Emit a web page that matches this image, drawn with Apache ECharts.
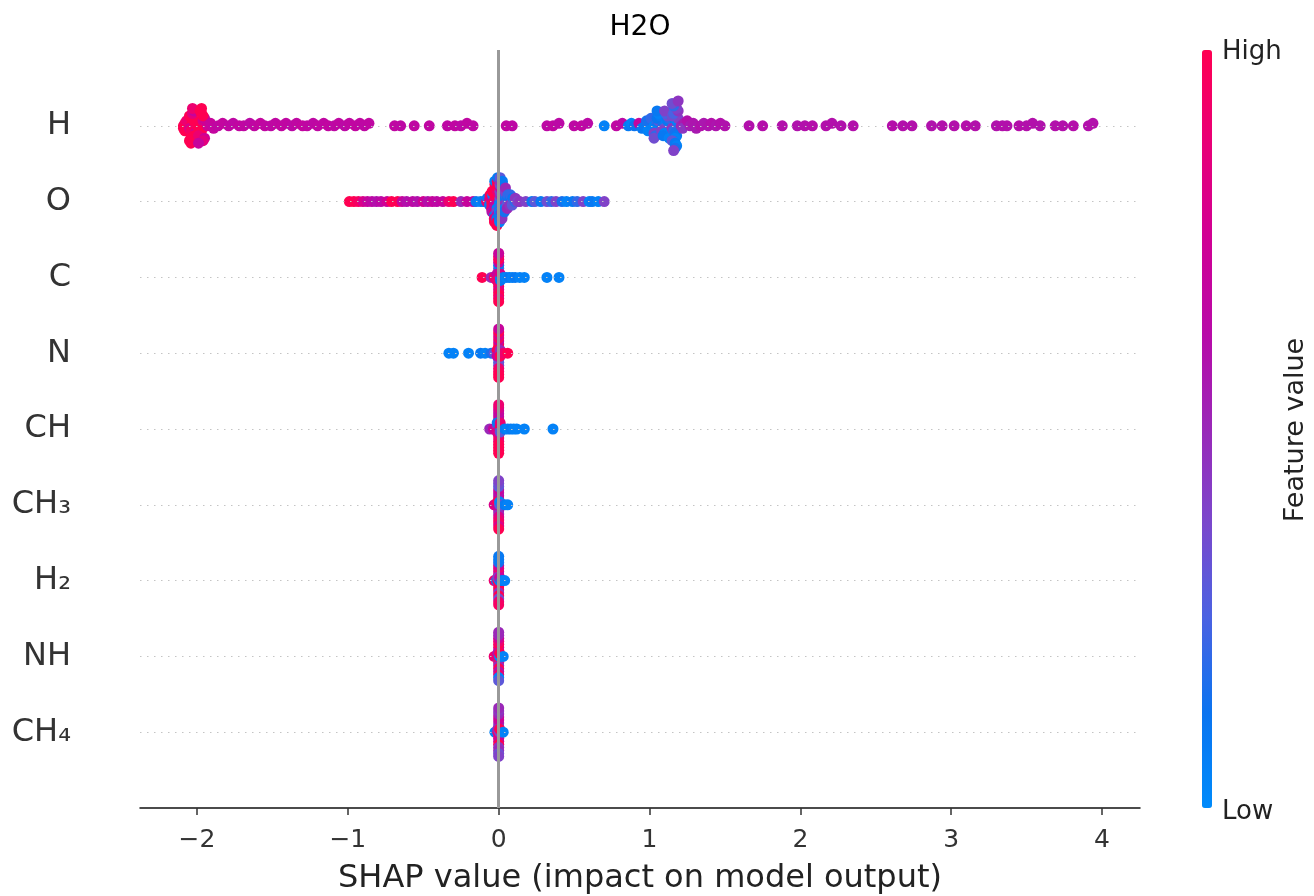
<!DOCTYPE html>
<html>
<head>
<meta charset="utf-8">
<title>H2O SHAP summary</title>
<script src="https://cdn.jsdelivr.net/npm/echarts@6/dist/echarts.min.js"></script>
<style>
  html, body { margin: 0; padding: 0; background: #fff; }
  #main { width: 1314px; height: 896px; }
</style>
</head>
<body>
<div id="main"></div>
<script>
// rows from bottom to top
const featureNames = ['CH\u2084', 'NH', 'H\u2082', 'CH\u2083', 'CH', 'N', 'C', 'O', 'H']
const xTicks = [-2, -1, 0, 1, 2, 3, 4]

// shap values and (normalised) feature values, one pair of arrays per row
const shapH = [
  -2.09, -2.08, -2.09, -2.07, -2.08,
  -2.04, -2.03, -2.05, -2.02, -2.04, -2.03, -2.01, -2.05, -2.02, -2.03, -2.04, -2.02, -2.05, -2.03, -2.04,
  -1.98, -1.97, -1.99, -1.96, -1.97, -1.95, -1.98, -1.96, -1.99, -1.97, -1.95, -1.98, -1.96, -1.97, -1.99,
  -1.93, -1.91, -1.89,
  -1.86, -1.83, -1.79, -1.76, -1.72, -1.69, -1.65, -1.62, -1.58, -1.55,
  -1.51, -1.48, -1.44, -1.41, -1.37, -1.34, -1.30, -1.27, -1.23, -1.20,
  -1.16, -1.13, -1.09, -1.06, -1.02, -0.99, -0.95, -0.92, -0.89, -0.86,
  -0.69, -0.65, -0.56, -0.46, -0.34, -0.29, -0.25, -0.21, -0.17,
  0.05, 0.09, 0.32, 0.36, 0.40, 0.50, 0.55, 0.59, 0.70, 0.78, 0.82,
  0.86, 0.88, 0.90, 0.93, 0.95,
  0.97, 0.99, 1.00, 0.98, 0.99, 1.01,
  1.03, 1.05, 1.04, 1.06, 1.02, 1.05, 1.03, 1.07, 1.04, 1.06, 1.03, 1.05,
  1.09, 1.11, 1.10, 1.12, 1.08, 1.13, 1.10, 1.12, 1.09, 1.11, 1.13, 1.10,
  1.16, 1.17, 1.15, 1.18, 1.16, 1.19, 1.17, 1.15, 1.18, 1.16, 1.17,
  1.19, 1.15, 1.18, 1.17, 1.16, 1.18, 1.15, 1.17, 1.19, 1.16,
  1.21, 1.23, 1.22, 1.25,
  1.27, 1.29, 1.31, 1.34, 1.36, 1.39, 1.41, 1.44, 1.47, 1.50,
  1.66, 1.75, 1.88, 1.98, 2.03, 2.08, 2.17, 2.21, 2.27, 2.35,
  2.61, 2.68, 2.74, 2.87, 2.94, 3.02, 3.10, 3.16, 3.30, 3.34,
  3.37, 3.45, 3.50, 3.54, 3.59, 3.69, 3.74, 3.81, 3.91, 3.94
]
const featH = [
  1, 0.95, 1, 0.9, 1,
  1, 1, 0.8, 1, 0.95, 1, 0.75, 1, 1, 0.85, 1, 0.7, 1, 0.9, 1,
  0.95, 1, 1, 0.8, 1, 0.7, 1, 1, 0.9, 1, 0.75, 1, 0.85, 1, 0.7,
  0.75, 0.7, 0.68,
  0.66, 0.68, 0.66, 0.65, 0.67, 0.66, 0.64, 0.66, 0.68, 0.66,
  0.65, 0.66, 0.67, 0.66, 0.64, 0.66, 0.68, 0.66, 0.65, 0.66,
  0.66, 0.67, 0.65, 0.66, 0.64, 0.66, 0.67, 0.66, 0.65, 0.66,
  0.66, 0.65, 0.66, 0.66, 0.65, 0.66, 0.64, 0.66, 0.65,
  0.66, 0.65, 0.65, 0.66, 0.64, 0.65, 0.66, 0.64, 0.05, 0.66, 0.64,
  0.08, 0.05, 0.12, 0.68, 0.1,
  0.1, 0.05, 0.35, 0.15, 0.05, 0.2,
  0.05, 0.2, 0.1, 0.3, 0.05, 0.12, 0.4, 0.08, 0.2, 0.05, 0.35, 0.1,
  0.15, 0.05, 0.3, 0.1, 0.4, 0.2, 0.05, 0.35, 0.1, 0.25, 0.05, 0.4,
  0.3, 0.1, 0.45, 0.05, 0.2, 0.4, 0.15, 0.35, 0.1, 0.25, 0.05,
  0.45, 0.3, 0.4, 0.1, 0.2, 0.05, 0.35, 0.15, 0.45, 0.4,
  0.5, 0.55, 0.45, 0.6,
  0.55, 0.58, 0.56, 0.6, 0.57, 0.58, 0.6, 0.58, 0.6, 0.59,
  0.6, 0.61, 0.6, 0.59, 0.6, 0.61, 0.6, 0.6, 0.59, 0.6,
  0.61, 0.6, 0.6, 0.59, 0.6, 0.6, 0.61, 0.6, 0.59, 0.6,
  0.6, 0.61, 0.6, 0.6, 0.59, 0.6, 0.6, 0.61, 0.6, 0.6
]

const shapO = [
  -0.99, -0.96, -0.93, -0.90, -0.87, -0.84, -0.81, -0.78, -0.74, -0.71,
  -0.67, -0.64, -0.61, -0.57, -0.54, -0.50, -0.47, -0.44, -0.41, -0.37,
  -0.33, -0.30, -0.25, -0.21, -0.17, -0.15, -0.12, -0.10,
  -0.080, -0.075,
  -0.062, -0.058, -0.061, -0.057,
  -0.046, -0.042, -0.044, -0.040, -0.047, -0.043, -0.045,
  -0.027, -0.025, -0.029, -0.024, -0.028, -0.026, -0.030, -0.023, -0.027, -0.025, -0.029, -0.026, -0.028,
  -0.010, -0.008, -0.012, -0.007, -0.011, -0.009, -0.013, -0.006, -0.010, -0.008, -0.012, -0.009, -0.011, -0.007, -0.012,
  0.007, 0.009, 0.005, 0.010, 0.006, 0.008, 0.004, 0.011, 0.007, 0.009, 0.005, 0.008, 0.006, 0.010,
  0.024, 0.026, 0.022, 0.027, 0.023, 0.025, 0.021, 0.028, 0.024, 0.026, 0.022, 0.025,
  0.041, 0.043, 0.039, 0.044, 0.040, 0.042, 0.038, 0.045,
  0.058, 0.060, 0.056, 0.061, 0.057,
  0.075, 0.077, 0.073, 0.078,
  0.092, 0.094, 0.090,
  0.108, 0.110,
  0.125,
  0.14, 0.18, 0.22, 0.24, 0.28, 0.32, 0.35, 0.38, 0.42, 0.45,
  0.49, 0.52, 0.56, 0.60, 0.62, 0.66, 0.70
]
const featO = [
  1, 1, 0.95, 0.8, 0.7, 0.65, 0.6, 0.65, 0.75, 1,
  1, 0.7, 0.6, 0.65, 0.6, 0.75, 0.6, 0.7, 0.65, 0.7,
  0.9, 1, 0.5, 0.7, 0.7, 0.1, 0.05, 0.1,
  0.9, 0.1,
  1, 0.7, 0.1, 1,
  1, 0.7, 1, 0.05, 0.9, 1, 0.6,
  1, 0.95, 0.7, 1, 0.6, 1, 0.8, 1, 0.1, 1, 0.9, 0.05, 1,
  0.8, 1, 0.7, 1, 0.05, 0.9, 0.4, 1, 0.6, 1, 0.1, 1, 0.95, 0.1, 1,
  0.1, 0.3, 0.05, 0.5, 0.2, 0.4, 0.05, 0.6, 0.15, 0.35, 0.1, 0.45, 0.05, 0.3,
  0.2, 0.05, 0.4, 0.1, 0.3, 0.15, 0.5, 0.05, 0.35, 0.2, 0.45, 0.1,
  0.3, 0.1, 0.45, 0.2, 0.05, 0.4, 0.15, 0.5,
  0.4, 0.1, 0.3, 0.2, 0.5,
  0.35, 0.1, 0.45, 0.2,
  0.4, 0.1, 0.3,
  0.2, 0.45,
  0.4,
  0.45, 0.4, 0.1, 0.3, 0.1, 0.35, 0.2, 0.4, 0.15, 0.05,
  0.1, 0.2, 0.4, 0.05, 0.1, 0.05, 0.4
]

const shapC = [
  -0.11, -0.05, -0.03,
  0, 0, 0, 0, 0, 0, 0, 0, 0, 0, 0, 0, 0, 0, 0, 0, 0,
  -0.012, -0.012, -0.012, 0.012, 0.012, 0.012,
  0.03, 0.05, 0.07, 0.09, 0.11, 0.14, 0.17, 0.32, 0.40
]
const featC = [
  1, 0.5, 0.9,
  0.6, 0.05, 1, 1, 0.9, 0.3, 1, 0.1, 0.8, 0.7, 0.95, 1, 1, 0.9, 0.9, 0.7, 1,
  1, 0.7, 0.9, 0.05, 0.8, 0.1,
  0.1, 0.05, 0.1, 0.05, 0.1, 0.05, 0.05, 0.05, 0.05
]

const shapN = [
  -0.33, -0.30, -0.20, -0.12, -0.09, -0.05, -0.03,
  0, 0, 0, 0, 0, 0, 0, 0, 0, 0, 0, 0, 0, 0, 0, 0, 0,
  -0.01, -0.01, -0.01, 0.01, 0.01, 0.01,
  0.03, 0.06
]
const featN = [
  0.05, 0.05, 0.05, 0.1, 0.05, 0.15, 0.3,
  1, 0.9, 0.5, 0.8, 0.3, 1, 0.25, 0.7, 0.35, 0.95, 0.9, 0.8, 0.95, 1, 1, 0.7, 1,
  0.3, 1, 0.7, 0.9, 0.5, 1,
  0.9, 1
]

const shapCH = [
  -0.06, -0.035,
  0, 0, 0, 0, 0, 0, 0, 0, 0, 0, 0, 0, 0, 0, 0, 0, 0,
  -0.01, -0.01, -0.01, -0.01, 0.01, 0.01, 0.01, 0.01,
  0.04, 0.06, 0.08, 0.10, 0.12, 0.17, 0.36
]
const featCH = [
  0.5, 0.7,
  1, 0.8, 1, 0.7, 0.95, 0.1, 1, 0.75, 0.9, 0.65, 1, 0.7, 1, 0.8, 1, 0.9, 1,
  1, 0.5, 0.8, 0.1, 0.1, 1, 0.3, 0.9,
  0.1, 0.05, 0.1, 0.05, 0.05, 0.05, 0.05
]

const shapCH3 = [
  -0.03, -0.015,
  0, 0, 0, 0, 0, 0, 0, 0, 0, 0, 0, 0, 0, 0, 0, 0, 0,
  -0.006, -0.006, 0.006, 0.006,
  0.02, 0.04, 0.06
]
const featCH3 = [
  0.8, 0.9,
  1, 0.65, 0.95, 0.9, 0.6, 0.7, 0.5, 0.6, 0.8, 0.7, 0.9, 0.3, 0.95, 0.35, 0.8, 0.4, 1,
  0.7, 1, 0.3, 0.05,
  0.3, 0.1, 0.05
]

const shapH2 = [
  -0.03, -0.015,
  0, 0, 0, 0, 0, 0, 0, 0, 0, 0, 0, 0, 0, 0, 0, 0, 0,
  -0.006, -0.006, 0.006, 0.006,
  0.02, 0.04
]
const featH2 = [
  0.9, 0.1,
  0.05, 0.8, 0.45, 0.9, 0.9, 0.7, 1, 0.9, 0.45, 0.75, 1, 0.15, 0.35, 0.1, 0.9, 0.1, 0.95,
  1, 0.4, 0.05, 0.7,
  0.1, 0.05
]

const shapNH = [
  -0.03,
  0, 0, 0, 0, 0, 0, 0, 0, 0, 0, 0, 0, 0, 0, 0, 0, 0,
  -0.006, -0.006, 0.006, 0.006,
  0.03
]
const featNH = [
  0.9,
  0.95, 0.9, 0.05, 0.7, 0.9, 0.8, 0.5, 1, 1, 0.9, 0.6, 0.75, 0.9, 0.5, 0.05, 0.5, 0.3,
  0.9, 0.6, 0.05, 1,
  0.05
]

const shapCH4 = [
  -0.025,
  0, 0, 0, 0, 0, 0, 0, 0, 0, 0, 0, 0, 0, 0, 0, 0, 0,
  -0.006, -0.006, 0.006, 0.006,
  0.03
]
const featCH4 = [
  0.05,
  0.3, 0.3, 0.5, 0.4, 0.85, 0.5, 0.7, 0.7, 1, 0.75, 0.45, 0.5, 0.5, 0.45, 0.35, 0.5, 0.4,
  0.9, 0.5, 0.4, 1,
  0.05
]

const rowData = [
  [shapCH4, featCH4], [shapNH, featNH], [shapH2, featH2], [shapCH3, featCH3],
  [shapCH, featCH], [shapN, featN], [shapC, featC], [shapO, featO], [shapH, featH]
]

// beeswarm offsets, same stacking rule as shap's summary plot
function swarm(xs) {
  const nbins = 100, rowHeight = 0.4
  const lo = Math.min(...xs), hi = Math.max(...xs)
  const quant = xs.map(x => Math.round(nbins * (x - lo) / (hi - lo + 1e-8)))
  const order = xs.map((_, i) => i).sort((a, b) => quant[a] - quant[b] || a - b)
  const ys = new Array(xs.length).fill(0)
  let layer = 0, last = -1
  order.forEach(i => {
    if (quant[i] !== last) layer = 0
    ys[i] = Math.ceil(layer / 2) * ((layer % 2) * 2 - 1)
    layer++
    last = quant[i]
  })
  const top = Math.max(...ys.map(y => y + 1))
  return ys.map(y => y * 0.9 * (rowHeight / top))
}

const points = []
rowData.forEach(([xs, fs], row) => {
  const off = swarm(xs)
  xs.forEach((x, i) => points.push([x, row + off[i], fs[i]]))
})

const rowLines = featureNames.map((_, r) => ({
  yAxis: r,
  lineStyle: { type: [1.5, 5.5], color: '#c4c4c4', width: 1 }
}))

const chart = echarts.init(document.getElementById('main'))
chart.setOption({
  animation: false,
  backgroundColor: '#fff',
  textStyle: { fontFamily: 'DejaVu Sans' },
  grid: { left: 140, right: 174, top: 50, bottom: 88 },
  xAxis: {
    type: 'value',
    min: -2.378,
    max: 4.252,
    axisLine: { onZero: false, lineStyle: { color: '#111', width: 1.5 } },
    axisTick: { customValues: xTicks, length: 7, lineStyle: { color: '#333', width: 1.5 } },
    axisLabel: {
      customValues: xTicks,
      formatter: v => (v < 0 ? '\u2212' + Math.abs(v) : String(v)),
      fontSize: 25,
      color: '#333',
      margin: 20
    },
    splitLine: { show: false }
  },
  yAxis: {
    type: 'value',
    min: -1,
    max: 9,
    interval: 1,
    axisLine: { show: false },
    axisTick: { show: false },
    splitLine: { show: false },
    axisLabel: {
      customValues: [0, 1, 2, 3, 4, 5, 6, 7, 8],
      formatter: v => featureNames[v] || '',
      fontSize: 32,
      color: '#333',
      padding: [6, 0, 0, 0],
      margin: 69
    }
  },
  visualMap: {
    type: 'continuous',
    min: 0,
    max: 1,
    dimension: 2,
    seriesIndex: 1,
    left: 1202,
    top: 50,
    itemWidth: 10,
    itemHeight: 758,
    padding: 0,
    calculable: false,
    inRange: {
      color: ['#008bfb', '#0a74f0', '#4a62e2', '#7a48cc', '#9a28b8', '#b80aa8', '#d00094', '#e80078', '#ff0052']
    }
  },
  series: [
    {
      type: 'line',
      data: [],
      silent: true,
      z: 1,
      markLine: {
        symbol: 'none',
        silent: true,
        animation: false,
        label: { show: false },
        data: rowLines.concat([{ xAxis: 0, lineStyle: { type: 'solid', color: '#999', width: 3 } }])
      }
    },
    {
      type: 'scatter',
      z: 3,
      symbolSize: 11,
      data: points,
      itemStyle: { opacity: 1 }
    }
  ],
  graphic: [
    { type: 'text', x: 640, y: 28, style: { text: 'H2O', font: '28px "DejaVu Sans"', fill: '#000', align: 'center', verticalAlign: 'middle' } },
    { type: 'text', x: 640, y: 879, style: { text: 'SHAP value (impact on model output)', font: '32px "DejaVu Sans"', fill: '#222', align: 'center', verticalAlign: 'middle' } },
    { type: 'text', x: 1222, y: 52, style: { text: 'High', font: '26px "DejaVu Sans"', fill: '#222', align: 'left', verticalAlign: 'middle' } },
    { type: 'text', x: 1222, y: 812, style: { text: 'Low', font: '26px "DejaVu Sans"', fill: '#222', align: 'left', verticalAlign: 'middle' } },
    { type: 'text', x: 1296, y: 430, rotation: Math.PI / 2, style: { text: 'Feature value', font: '27px "DejaVu Sans"', fill: '#222', align: 'center', verticalAlign: 'middle' } }
  ]
})
</script>
</body>
</html>
